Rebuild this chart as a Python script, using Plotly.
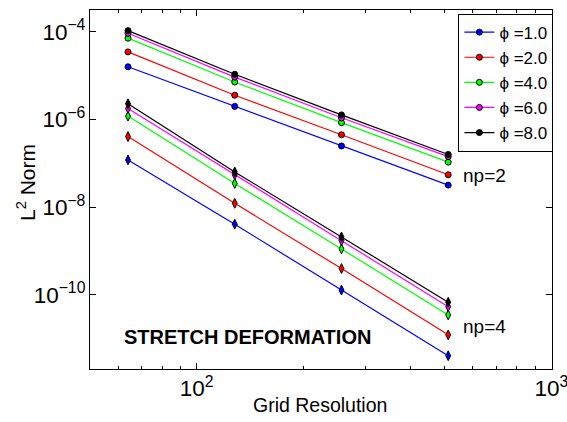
import plotly.graph_objects as go

grid = [64, 128, 256, 512]
phis = ["1.0", "2.0", "4.0", "6.0", "8.0"]
colors = ["#0000FF", "#FF0000", "#00FF00", "#FF00FF", "#000000"]

# np=2 (circles)
np2 = {
    "1.0": [1.6e-5, 2.0e-6, 2.5e-7, 3.2e-8],
    "2.0": [3.5e-5, 3.6e-6, 4.5e-7, 5.5e-8],
    "4.0": [7.2e-5, 7.2e-6, 8.5e-7, 1.07e-7],
    "6.0": [9.3e-5, 9.3e-6, 1.1e-6, 1.43e-7],
    "8.0": [1.07e-4, 1.08e-5, 1.28e-6, 1.6e-7],
}
# np=4 (diamonds)
np4 = {
    "1.0": [1.2e-7, 4.1e-9, 1.29e-10, 4.1e-12],
    "2.0": [4.1e-7, 1.23e-8, 4.0e-10, 1.23e-11],
    "4.0": [1.2e-6, 3.5e-8, 1.12e-9, 3.5e-11],
    "6.0": [1.8e-6, 5.5e-8, 1.73e-9, 5.4e-11],
    "8.0": [2.3e-6, 6.4e-8, 2.1e-9, 6.8e-11],
}

FONT = "Liberation Sans, Arial, Helvetica, sans-serif"
fig = go.Figure()
for phi, c in zip(phis, colors):
    fig.add_trace(go.Scatter(
        x=grid, y=np2[phi], mode="lines+markers", name="\u03d5 =" + phi,
        line=dict(color=c, width=1.2),
        marker=dict(symbol="circle", size=6, color=c, line=dict(color="black", width=1)),
    ))
for phi, c in zip(phis, colors):
    fig.add_trace(go.Scatter(
        x=grid, y=np4[phi], mode="lines+markers", showlegend=False,
        line=dict(color=c, width=1.2),
        marker=dict(symbol="diamond-tall", size=7, color=c, line=dict(color="black", width=1)),
    ))

fig.add_annotation(x=2.745, y=-7.27, xref="x", yref="y", text="np=2", showarrow=False,
                   xanchor="left", yanchor="middle", font=dict(size=19, color="black", family=FONT))
fig.add_annotation(x=2.745, y=-10.72, xref="x", yref="y", text="np=4", showarrow=False,
                   xanchor="left", yanchor="middle", font=dict(size=19, color="black", family=FONT))
fig.add_annotation(x=1.79, y=-10.95, xref="x", yref="y", text="<b>STRETCH DEFORMATION</b>",
                   showarrow=False, xanchor="left", yanchor="middle",
                   font=dict(size=20, color="black", family=FONT))
# axis titles
fig.add_annotation(x=320, y=405, xref="paper", yref="paper", text="Grid Resolution",
                   showarrow=False, xanchor="center", yanchor="middle",
                   font=dict(size=19.5, color="black", family=FONT))
fig.add_annotation(x=26, y=183, xref="paper", yref="paper", text="L<sup>2</sup> Norm",
                   showarrow=False, textangle=-90, xanchor="center", yanchor="middle",
                   font=dict(size=21, color="black", family=FONT))

fig.update_xaxes(
    type="log", range=[1.69897, 3.002], dtick=1, exponentformat="power",
    ticks="inside", ticklen=6, tickcolor="black", showline=True, linecolor="black",
    linewidth=1, mirror="ticks", showgrid=False, zeroline=False, automargin=False,
    ticklabeloverflow="allow",
    minor=dict(ticks="inside", ticklen=3, tickcolor="black", showgrid=False),
    tickfont=dict(size=18, color="black", family=FONT),
)
fig.update_yaxes(
    type="log", range=[-11.69, -3.5], dtick=2, exponentformat="power",
    ticks="inside", ticklen=6, tickcolor="black", showline=True, linecolor="black",
    linewidth=1, mirror="ticks", showgrid=False, zeroline=False, automargin=False,
    tickfont=dict(size=18, color="black", family=FONT),
)
fig.update_layout(
    width=567, height=422,
    margin=dict(l=90, r=15, t=10, b=53),
    paper_bgcolor="white", plot_bgcolor="white",
    font=dict(family=FONT, color="black"),
    legend=dict(x=1.003, y=0.99, xanchor="right", yanchor="top", bgcolor="white",
                bordercolor="black", borderwidth=1,
                font=dict(size=17, color="black", family=FONT),
                itemwidth=30, tracegroupgap=0),
)
# convert pixel positions of the title annotations into paper fractions
W, H = 567, 422
l, r, t, b = 90, 15, 10, 53
pw, ph = W - l - r, H - t - b
for ann in fig.layout.annotations:
    if ann.xref == "paper":
        px, py = ann.x, ann.y
        ann.x = (px - l) / pw
        ann.y = (H - b - py) / ph
fig.write_html("out.html")
